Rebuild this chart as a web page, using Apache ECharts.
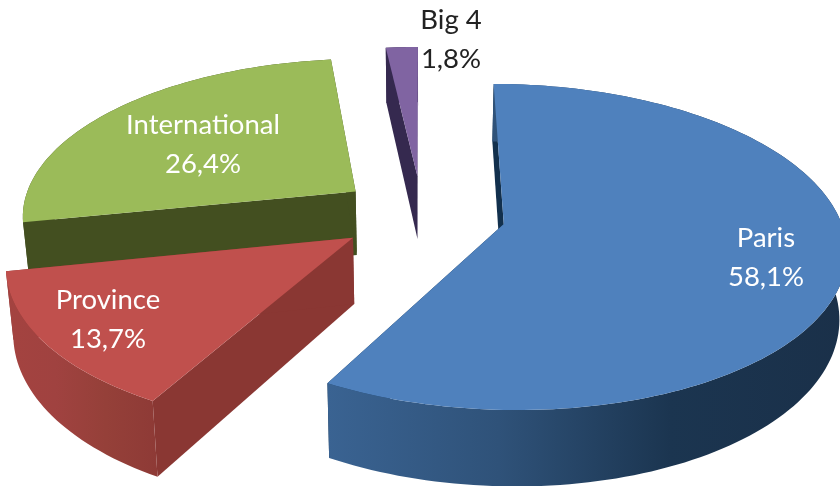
<!DOCTYPE html>
<html>
<head>
<meta charset="utf-8">
<style>html,body{margin:0;padding:0;background:#fff}#c{width:840px;height:486px}</style>
<script src="https://cdn.jsdelivr.net/npm/echarts@6/dist/echarts.min.js"></script>
</head>
<body>
<div id="c"></div>
<script>
const categories = ['Paris', 'Province', 'International', 'Big 4'];
const shares = [58.1, 13.7, 26.4, 1.8];

const topColors = ['#4f81bd', '#c0504d', '#9bbb59', '#8064a2'];
const cutColors = ['#12304d', '#8a3733', '#434f20', '#35294f'];
const rimStops = [
  ['#3a6392', '#2f5279', '#1b3550', '#1a3049'],
  ['#a44340', '#a04240', '#954039', '#8e3a36'],
  ['#434f20', '#434f20', '#434f20', '#434f20'],
  ['#35294f', '#35294f', '#35294f', '#35294f']
];
const labelColors = ['#ffffff', '#ffffff', '#ffffff', '#222222'];
const labelCentres = [[766, 258], [108, 320], [203, 145], [451, 40]];
const paintOrder = [4, 6, 2, 0];

// perspective camera of the pie plane
const cam = { vx: 422, vy: 214, R: 335, tilt: 157, k: 0.14, depth: 65, dropShrink: 0.982, explode: 0.25 };
function project(X, Y, drop) {
  const w = 1 + cam.k * Y;
  const sx = cam.R * X / w;
  return [cam.vx + (drop ? sx * cam.dropShrink : sx), cam.vy - cam.tilt * Y / w + (drop ? cam.depth / w : 0)];
}

const total = shares.reduce((a, b) => a + b, 0);
const starts = [];
shares.reduce((acc, v, i) => { starts[i] = acc; return acc + v; }, 0);

function renderItem(params, api) {
  const i = params.dataIndex;
  const a0 = api.value(0) / total * 2 * Math.PI;
  const a1 = a0 + api.value(1) / total * 2 * Math.PI;
  const mid = (a0 + a1) / 2;
  const ox = cam.explode * Math.sin(mid), oy = cam.explode * Math.cos(mid);
  const n = Math.max(6, Math.round((a1 - a0) * 40));
  const top = [], bottom = [];
  for (let s = 0; s <= n; s++) {
    const a = a0 + (a1 - a0) * s / n;
    const X = ox + Math.sin(a), Y = oy + Math.cos(a);
    top.push(project(X, Y, false));
    bottom.push(project(X, Y, true));
  }
  const apexTop = project(ox, oy, false), apexBot = project(ox, oy, true);
  const z = paintOrder[i];
  const stops = rimStops[i];
  const rimFill = new echarts.graphic.LinearGradient(0, 0, 1, 0, [
    { offset: 0, color: stops[0] }, { offset: 0.33, color: stops[1] },
    { offset: 0.66, color: stops[2] }, { offset: 1, color: stops[3] }
  ]);
  const poly = (points, fill, zz) => ({
    type: 'polygon', z2: zz, silent: true,
    shape: { points: points },
    style: { fill: fill, stroke: null }
  });
  const wallA = [apexTop, top[0], bottom[0], apexBot];
  const wallB = [apexTop, top[n], bottom[n], apexBot];
  const rim = top.concat(bottom.slice().reverse());
  const label = categories[i] + '\n' + api.value(1).toFixed(1).replace('.', ',') + '%';
  return {
    type: 'group',
    children: [
      poly(wallA, cutColors[i], z),
      poly(wallB, cutColors[i], z),
      poly(rim, rimFill, z),
      poly([apexTop].concat(top), topColors[i], z + 1),
      {
        type: 'text', z2: 20, silent: true,
        style: {
          x: labelCentres[i][0], y: labelCentres[i][1],
          text: label, fill: labelColors[i],
          font: '400 27.5px Lato, "Open Sans", sans-serif',
          lineHeight: 39, align: 'center', verticalAlign: 'middle'
        }
      }
    ]
  };
}

const chart = echarts.init(document.getElementById('c'), null, { renderer: 'canvas' });
chart.setOption({
  animation: false,
  backgroundColor: '#ffffff',
  series: [{
    type: 'custom',
    coordinateSystem: 'none',
    renderItem: renderItem,
    data: shares.map((v, i) => [starts[i], v])
  }]
});
</script>
</body>
</html>
